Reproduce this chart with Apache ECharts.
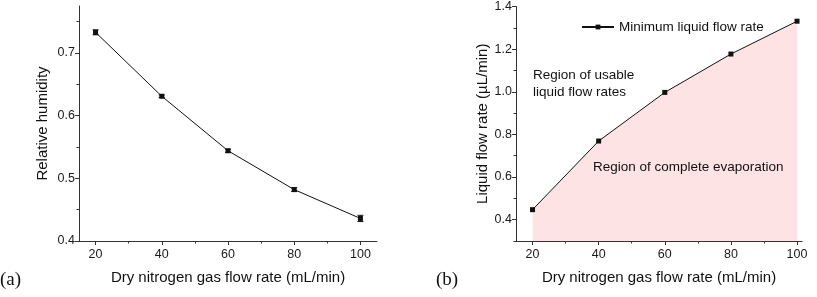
<!DOCTYPE html>
<html><head><meta charset="utf-8">
<script src="https://cdn.jsdelivr.net/npm/echarts@6/dist/echarts.min.js"></script>
<style>html,body{margin:0;padding:0;background:#fff}#c{width:817px;height:297px}</style>
</head><body><div id="c"></div>
<script>
const flowRates = [20, 40, 60, 80, 100];
const humidity = [0.733, 0.631, 0.544, 0.482, 0.436];
const humidityErr = [0.004, 0.002, 0.0025, 0.003, 0.005];
const minLiquid = [0.447, 0.769, 0.997, 1.177, 1.331];
const xMajor = [20, 40, 60, 80, 100];
const xMinor = [30, 50, 70, 90];
const yMajorA = [0.4, 0.5, 0.6, 0.7];
const yMinorA = [0.45, 0.55, 0.65, 0.75];
const yMajorB = [0.4, 0.6, 0.8, 1.0, 1.2, 1.4];
const yMinorB = [0.3, 0.5, 0.7, 0.9, 1.1, 1.3];

const FONT = 'Liberation Sans, Arial, sans-serif';
const axisCol = '#333';
const chart = echarts.init(document.getElementById('c'));

function xAxisMain(grid, min, max, name) {
  return {type:'value', gridIndex:grid, min:min, max:max, name:name, nameLocation:'middle', nameGap:29,
    nameTextStyle:{fontFamily:FONT, fontSize:15, color:'#111'},
    axisLine:{show:true, lineStyle:{color:axisCol, width:1}},
    axisTick:{show:true, inside:false, length:4, customValues:xMajor, lineStyle:{color:axisCol}},
    axisLabel:{show:true, margin:7, customValues:xMajor, fontFamily:FONT, fontSize:12.5, color:'#1a1a1a'},
    splitLine:{show:false}};
}
function xAxisMinor(grid, min, max) {
  return {type:'value', gridIndex:grid, min:min, max:max, position:'bottom',
    axisLine:{show:false}, axisTick:{show:true, length:2.5, customValues:xMinor, lineStyle:{color:axisCol}},
    axisLabel:{show:false}, splitLine:{show:false}};
}
function yAxisMain(grid, min, max, ticks, name, gap, fmt) {
  return {type:'value', gridIndex:grid, min:min, max:max, position:'left', name:name, nameLocation:'middle', nameGap:gap,
    nameTextStyle:{fontFamily:FONT, fontSize:15, color:'#111'},
    axisLine:{show:true, lineStyle:{color:axisCol, width:1}},
    axisTick:{show:true, length:4, customValues:ticks, lineStyle:{color:axisCol}},
    axisLabel:{show:true, margin:4, customValues:ticks, fontFamily:FONT, fontSize:12.5, color:'#1a1a1a', formatter:fmt},
    splitLine:{show:false}};
}
function yAxisMinor(grid, min, max, ticks) {
  return {type:'value', gridIndex:grid, min:min, max:max, position:'left',
    axisLine:{show:false}, axisTick:{show:true, length:2.5, customValues:ticks, lineStyle:{color:axisCol}},
    axisLabel:{show:false}, splitLine:{show:false}};
}

const errData = flowRates.map((x,i)=>[x, humidity[i]-humidityErr[i], humidity[i]+humidityErr[i]]);

chart.setOption({
  animation:false,
  grid:[
    {left:79, top:6, width:298, height:235},
    {left:516, top:6, width:286, height:235}
  ],
  xAxis:[
    xAxisMain(0, 15, 105, 'Dry nitrogen gas flow rate (mL/min)'),
    xAxisMinor(0, 15, 105),
    xAxisMain(1, 15, 101.5, 'Dry nitrogen gas flow rate (mL/min)'),
    xAxisMinor(1, 15, 101.5)
  ],
  yAxis:[
    yAxisMain(0, 0.4, 0.775, yMajorA, 'Relative humidity', 29, v=>v.toFixed(1)),
    yAxisMinor(0, 0.4, 0.775, yMinorA),
    yAxisMain(1, 0.3, 1.4, yMajorB, 'Liquid flow rate (\u00b5L/min)', 26, v=>v.toFixed(1)),
    yAxisMinor(1, 0.3, 1.4, yMinorB)
  ],
  legend:{
    data:['Minimum liquid flow rate'], left:576, top:15, itemWidth:32, itemHeight:6, itemGap:4,
    textStyle:{fontFamily:FONT, fontSize:13.5, color:'#111'}
  },
  graphic:[
    {type:'text', z:100, left:0, top:271, style:{text:'(a)', font:'19px "Liberation Serif", "Times New Roman", serif', fill:'#111'}},
    {type:'text', z:100, left:436, top:271, style:{text:'(b)', font:'19px "Liberation Serif", "Times New Roman", serif', fill:'#111'}},
    {type:'text', z:100, left:533, top:67, style:{text:'Region of usable\nliquid flow rates', font:'13.5px "Liberation Sans", Arial, sans-serif', fill:'#111', lineHeight:17}},
    {type:'text', z:100, left:593, top:160, style:{text:'Region of complete evaporation', font:'13.5px "Liberation Sans", Arial, sans-serif', fill:'#111'}}
  ],
  series:[
    {type:'line', name:'Relative humidity', xAxisIndex:0, yAxisIndex:0, data:flowRates.map((x,i)=>[x,humidity[i]]),
      symbol:'rect', symbolSize:5, lineStyle:{color:'#111', width:1}, itemStyle:{color:'#111'}, z:3},
    {type:'custom', xAxisIndex:0, yAxisIndex:0, data:errData, z:4,
      renderItem:function(params, api){
        const x = api.value(0);
        const lo = api.coord([x, api.value(1)]);
        const hi = api.coord([x, api.value(2)]);
        const w = 3;
        const st = {stroke:'#111', lineWidth:1};
        return {type:'group', children:[
          {type:'line', shape:{x1:lo[0], y1:lo[1], x2:hi[0], y2:hi[1]}, style:st},
          {type:'line', shape:{x1:lo[0]-w, y1:lo[1], x2:lo[0]+w, y2:lo[1]}, style:st},
          {type:'line', shape:{x1:hi[0]-w, y1:hi[1], x2:hi[0]+w, y2:hi[1]}, style:st}
        ]};
      }},
    {type:'line', name:'Minimum liquid flow rate', xAxisIndex:2, yAxisIndex:2, data:flowRates.map((x,i)=>[x,minLiquid[i]]),
      symbol:'rect', symbolSize:5, lineStyle:{color:'#111', width:1}, itemStyle:{color:'#111'},
      areaStyle:{color:'#fde3e3', opacity:1, origin:'start'}, z:3}
  ]
});
</script></body></html>
